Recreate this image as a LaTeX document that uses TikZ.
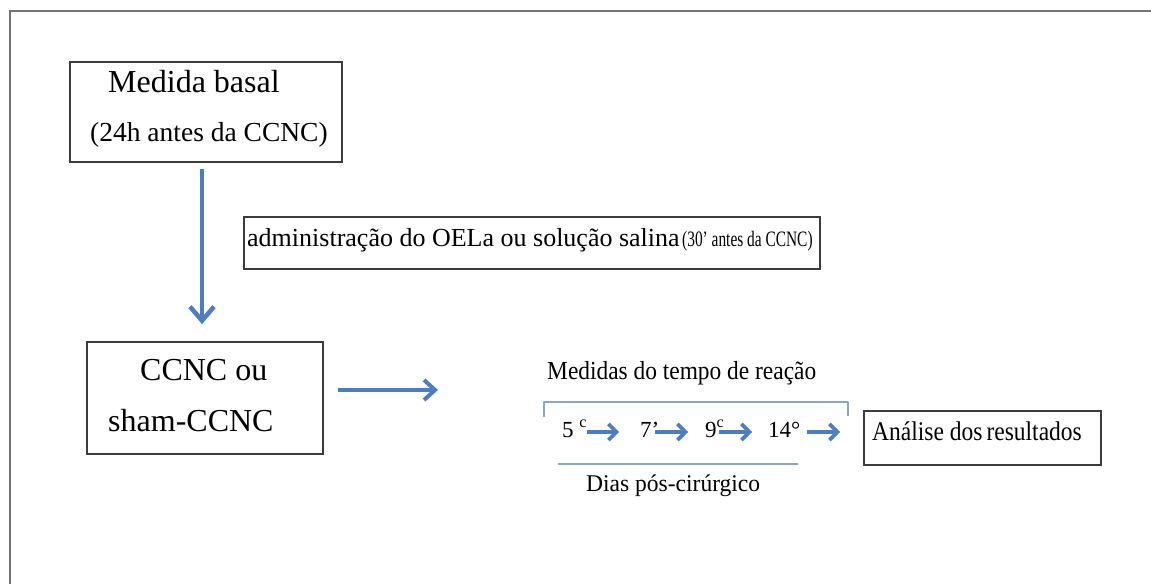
\documentclass[tikz,border=0pt]{standalone}
\usepackage{fontspec}
\setmainfont{Liberation Serif}
\usetikzlibrary{arrows.meta,calc}
\definecolor{arrblue}{RGB}{74,126,193}
\definecolor{framegray}{RGB}{115,115,115}
\definecolor{boxgray}{RGB}{60,60,60}
\definecolor{brk}{RGB}{140,165,200}
\newcommand{\fs}[1]{\fontsize{#1}{#1}\selectfont}
\newcommand{\sqz}[2]{\scalebox{#1}[1]{#2}}
\begin{document}
\begin{tikzpicture}[x=1pt,y=-1pt,
  box/.style={draw=boxgray, line width=1.8pt, rectangle, inner sep=0pt},
  txt/.style={inner sep=0pt, anchor=base west, text=black},
  bigarrow/.style={draw=arrblue, line width=4pt, -{Straight Barb[length=14pt,width=24pt,line width=4.5pt]}},
  midarrow/.style={draw=arrblue, line width=3.5pt, -{Straight Barb[length=11pt,width=20pt,line width=4pt]}},
  smallarrow/.style={draw=arrblue, line width=3.4pt, -{Straight Barb[length=8pt,width=16pt,line width=3.6pt]}},
  thinline/.style={draw=brk, line width=1.4pt}
]
\useasboundingbox[fill=white] (0,0) rectangle (1151,584);
% outer frame (top and left edges only)
\draw[framegray, line width=2pt] (10,584) -- (10,11) -- (1151,11);

% boxes
\node[box, minimum width=272pt, minimum height=100pt] (b1) at (206,112) {};
\node[box, minimum width=576pt, minimum height=52pt] (b2) at (532,243) {};
\node[box, minimum width=236pt, minimum height=112pt] (b3) at (205,398) {};
\node[box, minimum width=237pt, minimum height=54pt] (b4) at (982.5,438) {};

% texts
\node[txt] (t1a) at (108,92) {\fs{32}Medida basal};
\node[txt] (t1b) at (90,141) {\fs{27.5}(24h antes da CCNC)};
\node[txt] (t2) at (247,246) {\sqz{1.0}{\fs{26}administração do OELa ou solução salina} \sqz{0.7}{\fs{22}(30’ antes da CCNC)}};
\node[txt] (t3a) at (140,380) {\fs{32}CCNC ou};
\node[txt] (t3b) at (108,431) {\fs{32}sham-CCNC};
\node[txt] (t5) at (547,379) {\sqz{0.9}{\fs{26}Medidas do tempo de reação}};
\node[txt] (t6) at (586,491) {\sqz{0.98}{\fs{24}Dias pós-cirúrgico}};
\node[txt] (t4) at (872,440) {\sqz{0.87}{\fs{27}Análise dos\hspace{-2pt} resultados}};

% day labels
\node[txt] (d5) at (562,437) {\fs{23}5 \textsuperscript{c}};
\node[txt] (d7) at (640,437) {\fs{23}7’};
\node[txt] (d9) at (705,437) {\fs{23}9\textsuperscript{c}};
\node[txt] (d14) at (768,437) {\fs{23}14°};

% small arrows
\coordinate (a1s) at (587,432); \coordinate (a1e) at (619,432);
\coordinate (a2s) at (655,432); \coordinate (a2e) at (688,432);
\coordinate (a3s) at (719,432); \coordinate (a3e) at (752,432);
\coordinate (a4s) at (807,432); \coordinate (a4e) at (840,432);
\draw[smallarrow] (a1s) -- (a1e);
\draw[smallarrow] (a2s) -- (a2e);
\draw[smallarrow] (a3s) -- (a3e);
\draw[smallarrow] (a4s) -- (a4e);

% bracket and underline
\coordinate (k1) at (544,417); \coordinate (k2) at (544,402);
\coordinate (k3) at (848,402); \coordinate (k4) at (848,416);
\draw[thinline, line join=round] (k1) -- (k2) -- (k3) -- (k4);
\coordinate (u1) at (558,464); \coordinate (u2) at (798,464);
\draw[thinline] (u1) -- (u2);

% main arrows
\draw[bigarrow] ($(b1.south)+(-4,6)$) -- ($(b3.north)+(-3,-17)$);
\coordinate (h1) at (438,390);
\draw[midarrow] ($(b3.east)+(14,-8)$) -- (h1);
\end{tikzpicture}
\end{document}
